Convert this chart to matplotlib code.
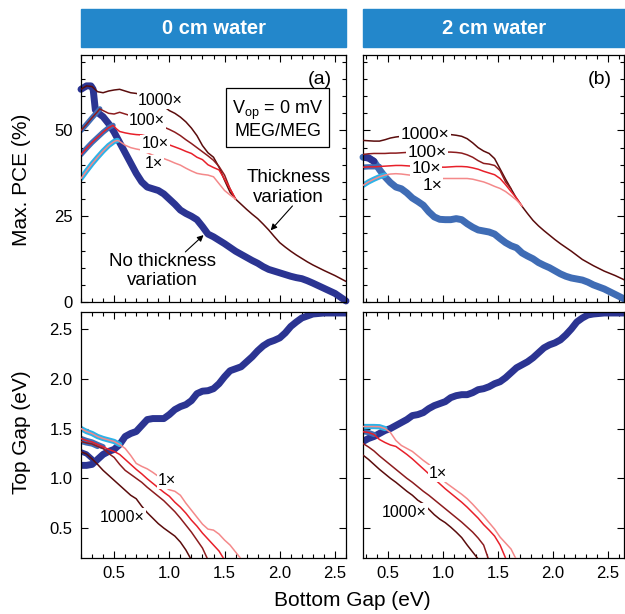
import numpy as np
import matplotlib
matplotlib.use('Agg')
import matplotlib.pyplot as plt
from matplotlib.ticker import MultipleLocator
from matplotlib.patches import Rectangle

plt.rcParams['font.family'] = ['Liberation Sans', 'DejaVu Sans']
plt.rcParams['mathtext.fontset'] = 'custom'
plt.rcParams['mathtext.rm'] = 'Liberation Sans'

# sampling grid of bottom gap (eV), left column
GRID = [0.20, 0.25, 0.30, 0.35, 0.40, 0.45, 0.50, 0.55, 0.60, 0.65, 0.70,
        0.75, 0.80, 0.85, 0.90, 0.95, 1.00, 1.05, 1.10, 1.15, 1.20, 1.25,
        1.30, 1.35, 1.40, 1.45, 1.50, 1.55, 1.60, 1.65, 1.70, 1.75, 1.80,
        1.85, 1.90, 1.95, 2.00, 2.05, 2.10, 2.15, 2.20, 2.25, 2.30]
TAIL = [2.40, 2.50, 2.60]
FULL = GRID + TAIL
# right column axis starts a little later (about 0.27 eV)
GRID_B = [round(g + 0.07, 2) for g in GRID]
FULL_B = [round(g + 0.07, 2) for g in FULL]

panel_titles = ['0 cm water', '2 cm water']

# ---- (a) max PCE, 0 cm water
a_main_x = [0.20, 0.25, 0.29, 0.31, 0.32, 0.33, 0.36] + GRID[4:] + TAIL
a_main_y = [62, 63, 63, 62, 59, 56, 55,
            54, 52, 49.5, 46.5, 43.5, 40.5, 37.5, 35, 33.5, 33,
            32.5, 31.5, 30, 28.5, 26.8, 25.8, 25, 24, 22, 19.8,
            19, 18, 17, 15.9, 14.8, 13.9, 13, 12.1, 11.3, 10.3,
            9.5, 9, 8.5, 8, 7.5, 7.1, 6.8, 6.2, 5.5,
            4, 2.5, 0.3]
a_1000_x = FULL
a_1000_y = [62, 63, 62.8, 61.3, 61, 61.5, 61.8, 62, 61.5, 61,
            60.8, 60.3, 59.5, 58.8, 58, 57, 55.8, 55, 53.9, 52.5,
            50.7, 48.5, 45.6, 43.5, 42.2, 39.3, 35.5, 32, 30, 28.5,
            27, 25.6, 24.3, 22.7, 21, 19.1, 17.3, 16, 14.8, 13.7,
            12.7, 11.7, 10.8, 9.2, 7.7, 6]
a_100_x = [0.20, 0.25, 0.30, 0.35, 0.37] + GRID[4:29]
a_100_y = [50, 51.8, 53.7, 55.5, 56.3,
           55.8, 55, 54.8, 55.3, 54.8, 54.3, 54, 53.5, 52.8, 52,
           51.5, 51, 50.3, 49.5, 48.5, 47.3, 46.2, 45, 43.8, 42.6,
           41.3, 39.5, 37, 33, 30]
a_10_x = [0.20, 0.25, 0.30, 0.35, 0.40, 0.45, 0.49, 0.52] + GRID[7:29]
a_10_y = [43, 44.8, 46.5, 48, 49.5, 50.8, 51.5, 50.5,
          49.7, 49.3, 49, 48.8, 48.7, 48.3, 47.8, 47.2, 46.5, 45.8,
          45.2, 44.6, 43.9, 43.3, 42.2, 41.5, 40, 39.2, 38.5, 35.8, 33, 30]
a_1_x = [0.20, 0.25, 0.30, 0.35, 0.40, 0.45, 0.50, 0.53] + GRID[7:29]
a_1_y = [36, 38.2, 40.3, 42.2, 44, 45.6, 46.8, 47.1,
         46.8, 45.7, 45, 44.6, 44.3, 43.5, 42.8, 42.2, 41.8, 41.2,
         40.5, 39.9, 39, 38.2, 37.5, 37.2, 37, 36.5, 34.5, 32.5, 31.2, 30]

# ---- (b) max PCE, 2 cm water
b_main_y = [42.2, 42, 41, 38.6, 36.5, 34.8, 33.5, 33, 31.8, 30.3,
            29.3, 28.2, 26.3, 24.8, 24.1, 24, 24, 24.3, 24, 22.8,
            21.8, 21, 20.7, 20.4, 19.8, 18.5, 17.3, 16.4, 15.8, 14.3,
            13.4, 12.6, 11.5, 10.7, 10, 9.1, 8.2, 7.5, 7, 6.7,
            6.4, 5.8, 5, 3.8, 2.2, 0.6]
b_1000_y = [47.1, 47, 46.9, 46.9, 47.3, 47.8, 48.1, 48.3, 48.5, 48.6,
            48.7, 48.8, 48.8, 48.8, 48.8, 48.8, 48.8, 48.6, 48.3, 47.6,
            46.4, 45, 44, 43.3, 41.8, 38.8, 35.8, 33, 30.2, 27.9,
            25.8, 23.8, 22.2, 20.8, 19.5, 18.2, 17, 15.9, 14.8, 13.6,
            12.4, 11.5, 10.6, 9, 7.7, 6.2]
b_100_y = [43, 43.2, 43.3, 43.3, 43.3, 43.4, 43.4, 43.5, 43.6, 43.6,
           43.7, 43.7, 43.7, 43.7, 43.7, 43.7, 43.7, 43.6, 43.4, 42.9,
           42.2, 41.2, 40.4, 40.2, 39.8, 38.3, 35, 33]
b_10_y = [39.3, 39.4, 39.4, 39.5, 39.6, 39.7, 39.8, 39.8, 39.7, 39.6,
          39.5, 39.4, 39.3, 39.3, 39.3, 39.3, 39.4, 39.5, 39.5, 39.4,
          39.1, 38.7, 38.1, 37.6, 37.1, 36, 34.2, 32.2, 30.3, 28]
b_1_y = [34, 35, 35.8, 36.5, 37, 37.3, 37.4, 37.3, 37.1, 36.9,
         36.7, 36.5, 36.3, 36.1, 36, 36, 36, 36, 36, 36,
         35.8, 35.4, 35, 34.4, 33.7, 33.1, 32.2, 31, 29.7, 28]

# ---- (a) top gap, 0 cm water
c_main_y = [1.13, 1.13, 1.14, 1.19, 1.24, 1.27, 1.29, 1.34, 1.42, 1.45,
            1.47, 1.53, 1.59, 1.60, 1.60, 1.60, 1.64, 1.69, 1.72, 1.74,
            1.78, 1.85, 1.875, 1.88, 1.90, 1.95, 2.02, 2.08, 2.10, 2.12,
            2.17, 2.22, 2.28, 2.33, 2.365, 2.385, 2.41, 2.46, 2.525, 2.57,
            2.61, 2.63, 2.65, 2.66, 2.66, 2.66]
c_1000_y = [1.266, 1.245, 1.195, 1.14, 1.08, 1.03, 0.98, 0.93, 0.88, 0.83,
            0.795, 0.72, 0.655, 0.60, 0.545, 0.50, 0.46, 0.42, 0.36, 0.28,
            0.18]
c_100_y = [1.37, 1.355, 1.345, 1.32, 1.30, 1.25, 1.21, 1.14, 1.08, 1.04,
           1.00, 0.96, 0.91, 0.865, 0.82, 0.775, 0.72, 0.665, 0.60, 0.53,
           0.46, 0.38, 0.30, 0.18]
c_10_y = [1.40, 1.38, 1.365, 1.34, 1.317, 1.29, 1.27, 1.24, 1.19, 1.14,
          1.09, 1.045, 0.995, 0.95, 0.905, 0.86, 0.82, 0.76, 0.71, 0.65,
          0.58, 0.52, 0.45, 0.39, 0.33, 0.27, 0.18]
c_1_y = [1.50, 1.47, 1.45, 1.42, 1.40, 1.385, 1.37, 1.34, 1.30, 1.23,
         1.15, 1.12, 1.095, 1.06, 1.02, 0.92, 0.885, 0.87, 0.83, 0.75,
         0.68, 0.61, 0.54, 0.49, 0.48, 0.44, 0.38, 0.33, 0.26, 0.19]

# ---- (b) top gap, 2 cm water
d_main_y = [1.37, 1.40, 1.42, 1.45, 1.48, 1.50, 1.53, 1.56, 1.59, 1.63,
            1.64, 1.66, 1.70, 1.73, 1.75, 1.77, 1.81, 1.83, 1.84, 1.84,
            1.86, 1.89, 1.90, 1.92, 1.95, 1.97, 2.01, 2.06, 2.11, 2.14,
            2.17, 2.21, 2.26, 2.31, 2.34, 2.36, 2.39, 2.44, 2.50, 2.57,
            2.61, 2.64, 2.65, 2.66, 2.66, 2.66]
d_1000_y = [1.233, 1.19, 1.14, 1.09, 1.045, 1.0, 0.96, 0.915, 0.87, 0.83,
            0.78, 0.745, 0.69, 0.635, 0.59, 0.555, 0.51, 0.46, 0.405, 0.33,
            0.26, 0.19]
d_100_y = [1.35, 1.315, 1.275, 1.225, 1.18, 1.135, 1.09, 1.045, 1.0, 0.96,
           0.915, 0.87, 0.83, 0.785, 0.74, 0.695, 0.65, 0.605, 0.56, 0.51,
           0.46, 0.40, 0.33, 0.17]
d_10_y = [1.468, 1.46, 1.44, 1.39, 1.36, 1.335, 1.32, 1.28, 1.24, 1.195,
          1.145, 1.095, 1.045, 0.995, 0.945, 0.895, 0.85, 0.805, 0.76, 0.71,
          0.655, 0.60, 0.535, 0.48, 0.42, 0.33, 0.2]
d_1_y = [1.52, 1.52, 1.52, 1.518, 1.50, 1.46, 1.38, 1.33, 1.30, 1.27,
         1.225, 1.18, 1.14, 1.09, 1.03, 0.96, 0.92, 0.88, 0.84, 0.795,
         0.74, 0.68, 0.62, 0.555, 0.49, 0.41, 0.35, 0.29, 0.18]

NAVY = '#2B3492'
BLUE = '#3F6CB5'
CYAN = '#2CB3E8'
HEADER = '#2387CB'
THIN = {'1000': '#5A0C0C', '100': '#8C1C1E', '10': '#E8202A', '1': '#F4898A'}

W, H = 625, 614
fig = plt.figure(figsize=(W / 100, H / 100), dpi=100)


def frame(l, t, r, b):
    return [l / W, 1 - b / H, (r - l) / W, (b - t) / H]


ax_a = fig.add_axes(frame(81, 55, 346, 302))
ax_b = fig.add_axes(frame(363, 55, 624, 302))
ax_c = fig.add_axes(frame(81, 312, 346, 558))
ax_d = fig.add_axes(frame(363, 312, 624, 558))


def curve(ax, xs, ys, color, lw, z, upto=None, clip=True):
    xs = np.asarray(xs[:len(ys)], dtype=float)
    ys = np.asarray(ys, dtype=float)
    if upto is not None:
        keep = xs <= upto + 1e-9
        xs, ys = xs[keep], ys[keep]
    ax.plot(xs, ys, color=color, lw=lw, zorder=z, clip_on=clip,
            solid_capstyle='round', solid_joinstyle='round')


def label(ax, x, y, s, size=11.5):
    ax.text(x, y, s, fontsize=size, ha='center', va='center', zorder=6,
            bbox=dict(boxstyle='square,pad=0.08', fc='white', ec='none'))


MAIN_LW, START_LW, THIN_LW = 5.0, 3.8, 1.1

# (a) top
curve(ax_a, a_main_x, a_main_y, NAVY, MAIN_LW, 2, clip=False)
curve(ax_a, a_100_x, a_100_y, BLUE, START_LW, 2.5, upto=0.37)
curve(ax_a, a_10_x, a_10_y, BLUE, START_LW, 2.5, upto=0.49)
curve(ax_a, a_1_x, a_1_y, CYAN, START_LW, 2.5, upto=0.53)
for xs, ys, c in [(a_1000_x, a_1000_y, '1000'), (a_100_x, a_100_y, '100'),
                  (a_10_x, a_10_y, '10'), (a_1_x, a_1_y, '1')]:
    curve(ax_a, xs, ys, THIN[c], THIN_LW, 3)
label(ax_a, 0.918, 58.7, '1000\u00d7')
label(ax_a, 0.797, 52.9, '100\u00d7')
label(ax_a, 0.873, 46.1, '10\u00d7')
label(ax_a, 0.857, 40.3, '1\u00d7')
ax_a.text(2.36, 65.0, '(a)', fontsize=14, ha='center', va='center')
ax_a.text(1.98, 53.2, 'V$_{\\rm op}$ = 0 mV\nMEG/MEG', fontsize=13,
          ha='center', va='center', linespacing=1.1,
          bbox=dict(boxstyle='square,pad=0.35', fc='white', ec='black', lw=0.9))
ax_a.text(2.08, 33.4, 'Thickness\nvariation', fontsize=13.5,
          ha='center', va='center')
ax_a.annotate('', xy=(1.918, 20.9), xytext=(2.115, 28.0),
              arrowprops=dict(arrowstyle='-|>', color='black', lw=0.8,
                              mutation_scale=9, shrinkA=0, shrinkB=0))
ax_a.text(0.934, 9.0, 'No thickness\nvariation', fontsize=13.5,
          ha='center', va='center')
ax_a.annotate('', xy=(1.31, 19.5), xytext=(1.145, 14.6),
              arrowprops=dict(arrowstyle='-|>', color='black', lw=0.8,
                              mutation_scale=9, shrinkA=0, shrinkB=0))

# (b) top
curve(ax_b, FULL_B, b_main_y, BLUE, MAIN_LW, 2, clip=False)
curve(ax_b, FULL_B, b_main_y, NAVY, MAIN_LW, 2.2, upto=0.39)
curve(ax_b, GRID_B, b_10_y, BLUE, START_LW, 2.5, upto=0.42)
curve(ax_b, GRID_B, b_1_y, CYAN, START_LW, 2.5, upto=0.47)
for ys, c in [(b_1000_y, '1000'), (b_100_y, '100'), (b_10_y, '10'), (b_1_y, '1')]:
    curve(ax_b, FULL_B, ys, THIN[c], THIN_LW, 3)
label(ax_b, 0.834, 48.8, '1000\u00d7', 12.5)
label(ax_b, 0.855, 43.7, '100\u00d7', 12.5)
label(ax_b, 0.845, 38.9, '10\u00d7', 12.5)
label(ax_b, 0.90, 34.0, '1\u00d7', 12.5)
ax_b.text(2.425, 65.0, '(b)', fontsize=14, ha='center', va='center')

# (a) bottom
curve(ax_c, FULL, c_main_y, NAVY, MAIN_LW, 2)
curve(ax_c, GRID, c_1000_y, NAVY, START_LW, 2.5, upto=0.30)
curve(ax_c, GRID, c_100_y, BLUE, START_LW, 2.5, upto=0.35)
curve(ax_c, GRID, c_10_y, BLUE, START_LW, 2.5, upto=0.40)
curve(ax_c, GRID, c_1_y, CYAN, START_LW, 2.5, upto=0.55)
for ys, c in [(c_1000_y, '1000'), (c_100_y, '100'), (c_10_y, '10'), (c_1_y, '1')]:
    curve(ax_c, GRID, ys, THIN[c], THIN_LW, 3)
label(ax_c, 0.979, 0.98, '1\u00d7')
label(ax_c, 0.57, 0.61, '1000\u00d7')

# (b) bottom
curve(ax_d, FULL_B, d_main_y, NAVY, MAIN_LW, 2)
curve(ax_d, GRID_B, d_10_y, BLUE, START_LW, 2.5, upto=0.37)
curve(ax_d, GRID_B, d_1_y, CYAN, START_LW, 2.5, upto=0.47)
for ys, c in [(d_1000_y, '1000'), (d_100_y, '100'), (d_10_y, '10'), (d_1_y, '1')]:
    curve(ax_d, GRID_B, ys, THIN[c], THIN_LW, 3)
label(ax_d, 0.956, 1.05, '1\u00d7')
label(ax_d, 0.645, 0.66, '1000\u00d7')

# axes styling
for ax in [ax_a, ax_b, ax_c, ax_d]:
    ax.xaxis.set_major_locator(MultipleLocator(0.5))
    ax.xaxis.set_minor_locator(MultipleLocator(0.1))
    ax.tick_params(which='both', direction='in', top=True, right=True,
                   width=0.8, labelsize=12, pad=6)
    ax.tick_params(which='major', length=5)
    ax.tick_params(which='minor', length=2.8)
    for sp in ax.spines.values():
        sp.set_linewidth(0.9)
for ax in [ax_a, ax_c]:
    ax.set_xlim(0.2, 2.6)
for ax in [ax_b, ax_d]:
    ax.set_xlim(0.27, 2.65)
    ax.tick_params(labelleft=False)

for ax in [ax_a, ax_b]:
    ax.set_ylim(0, 72)
    ax.yaxis.set_major_locator(MultipleLocator(25))
    ax.yaxis.set_minor_locator(MultipleLocator(5))
    ax.tick_params(labelbottom=False)
for ax in [ax_c, ax_d]:
    ax.set_ylim(0.2, 2.67)
    ax.yaxis.set_major_locator(MultipleLocator(0.5))

# header bars
for (l, r), title in zip([(81, 346), (363, 625)], panel_titles):
    fig.patches.append(Rectangle((l / W, 1 - 47 / H), (r - l) / W, 38 / H,
                                 transform=fig.transFigure, color=HEADER, zorder=0))
    fig.text((l + r) / 2 / W, 1 - 28 / H, title, color='white', fontsize=14.5,
             fontweight='bold', ha='center', va='center')

fig.text(22 / W, 1 - 180 / H, 'Max. PCE (%)', rotation=90, fontsize=15,
         ha='center', va='center')
fig.text(22 / W, 1 - 432 / H, 'Top Gap (eV)', rotation=90, fontsize=15,
         ha='center', va='center')
fig.text(352 / W, 1 - 600 / H, 'Bottom Gap (eV)', fontsize=15,
         ha='center', va='center')

fig.savefig('out.png', dpi=100)
